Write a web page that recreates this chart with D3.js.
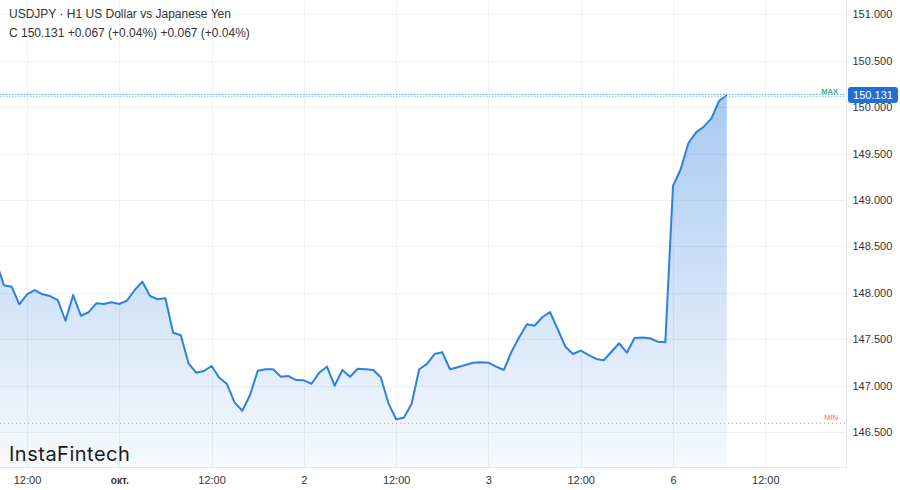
<!DOCTYPE html>
<html>
<head>
<meta charset="utf-8">
<script src="https://cdn.jsdelivr.net/npm/d3@7"></script>
<style>
  html, body { margin: 0; padding: 0; background: #fff; }
  svg { display: block; }
</style>
</head>
<body>
<svg id="chart" width="900" height="490"></svg>
<script>
// ---------------- DATA ----------------
const titleLine1 = "USDJPY · H1 US Dollar vs Japanese Yen";
const titleLine2 = "C 150.131 +0.067 (+0.04%) +0.067 (+0.04%)";
const firstBar = -16; // bar index of first close (0 = 1 Oct 00:00), hourly bars
const closes = [
  148.33, 148.08, 148.065, 147.875, 147.983, 148.029, 147.983, 147.964,
  147.921, 147.698, 147.975, 147.752, 147.789, 147.886, 147.878, 147.897,
  147.878, 147.914, 148.029, 148.119, 147.964, 147.929, 147.94, 147.569,
  147.541, 147.239, 147.138, 147.156, 147.21, 147.084, 147.016, 146.815,
  146.728, 146.898, 147.159, 147.175, 147.175, 147.095, 147.102, 147.059,
  147.056, 147.019, 147.138, 147.203, 146.998, 147.167, 147.095, 147.181,
  147.175, 147.167, 147.088, 146.808, 146.636, 146.653, 146.801, 147.175,
  147.232, 147.339, 147.358, 147.175, 147.196, 147.221, 147.246, 147.25,
  147.246, 147.203, 147.167, 147.364, 147.519, 147.659, 147.644, 147.735,
  147.792, 147.609, 147.418, 147.339, 147.375, 147.329, 147.286, 147.272,
  147.364, 147.455, 147.353, 147.512, 147.516, 147.509, 147.472, 147.466,
  149.15, 149.33, 149.61, 149.728, 149.789, 149.879, 150.069, 150.131
];
const lastPrice = 150.131;
const maxLevel = 150.131;
const minLevel = 146.592;
const xTickBars = [-12, 0, 12, 24, 36, 48, 60, 72, 84];
const xTickLabels = ["12:00", "окт.", "12:00", "2", "12:00", "3", "12:00", "6", "12:00"];
const xTickBold = [false, true, false, false, false, false, false, false, false];
const yTicks = [146.5, 147.0, 147.5, 148.0, 148.5, 149.0, 149.5, 150.0, 150.5, 151.0];

// ---------------- LAYOUT ----------------
const W = 900, H = 490;
const plotRight = 846.5, plotBottom = 467.5;
const svg = d3.select("#chart");
const FONT = "'Liberation Sans', Arial, sans-serif";

const x = d3.scaleLinear().domain([0, 72]).range([119.3, 673]);
const y = d3.scaleLinear().domain([146.5, 151]).range([431.9, 14.3]);

const data = closes.map((v, i) => ({ bar: firstBar + i, v }));

svg.append("rect").attr("width", W).attr("height", H).attr("fill", "#fff");

const defs = svg.append("defs");
defs.append("clipPath").attr("id", "plotClip")
  .append("rect").attr("x", 0).attr("y", 0).attr("width", plotRight).attr("height", plotBottom);

const grad = defs.append("linearGradient").attr("id", "areaGrad")
  .attr("gradientUnits", "userSpaceOnUse")
  .attr("x1", 0).attr("x2", 0).attr("y1", y(lastPrice)).attr("y2", plotBottom);
grad.append("stop").attr("offset", "0%").attr("stop-color", "#2f80e0").attr("stop-opacity", 0.42);
grad.append("stop").attr("offset", "100%").attr("stop-color", "#2f80e0").attr("stop-opacity", 0.04);

// grid
const grid = svg.append("g").attr("clip-path", "url(#plotClip)");
grid.selectAll("line.h").data(yTicks).join("line")
  .attr("x1", 0).attr("x2", plotRight)
  .attr("y1", d => Math.round(y(d)) + 0.5).attr("y2", d => Math.round(y(d)) + 0.5)
  .attr("stroke", "#eef0f4").attr("stroke-width", 1);
grid.selectAll("line.v").data(xTickBars).join("line")
  .attr("x1", d => Math.round(x(d)) + 0.5).attr("x2", d => Math.round(x(d)) + 0.5)
  .attr("y1", 0).attr("y2", plotBottom)
  .attr("stroke", "#eef0f4").attr("stroke-width", 1);

// area + line
const plot = svg.append("g").attr("clip-path", "url(#plotClip)");
plot.append("path").datum(data)
  .attr("d", d3.area().x(d => x(d.bar)).y0(plotBottom).y1(d => y(d.v)))
  .attr("fill", "url(#areaGrad)");
plot.append("path").datum(data)
  .attr("d", d3.line().x(d => x(d.bar)).y(d => y(d.v)))
  .attr("fill", "none").attr("stroke", "#2f80dd").attr("stroke-width", 2)
  .attr("stroke-linejoin", "round");

// max / min lines
plot.append("line").attr("x1", 0).attr("x2", plotRight)
  .attr("y1", y(maxLevel) - 0.5).attr("y2", y(maxLevel) - 0.5)
  .attr("stroke", "#5aa2ea").attr("stroke-width", 1).attr("stroke-dasharray", "1.5,1.5");
plot.append("line").attr("x1", 0).attr("x2", plotRight)
  .attr("y1", y(maxLevel) + 1.5).attr("y2", y(maxLevel) + 1.5)
  .attr("stroke", "#9cc6f2").attr("stroke-width", 1).attr("stroke-dasharray", "1.5,1.5");
plot.append("line").attr("x1", 0).attr("x2", plotRight)
  .attr("y1", y(minLevel)).attr("y2", y(minLevel))
  .attr("stroke", "#f08a8a").attr("stroke-width", 1).attr("stroke-dasharray", "1,3");
svg.append("text").attr("x", 838).attr("y", y(maxLevel) - 1)
  .attr("text-anchor", "end").attr("font-family", FONT).attr("font-size", 7.5)
  .attr("font-weight", "bold").attr("fill", "#3cb371").text("MAX");
svg.append("text").attr("x", 838).attr("y", y(minLevel) - 3)
  .attr("text-anchor", "end").attr("font-family", FONT).attr("font-size", 7.5)
  .attr("fill", "#f07070").text("MIN");

// plot frame (right + bottom)
svg.append("line").attr("x1", plotRight).attr("x2", plotRight).attr("y1", 0).attr("y2", plotBottom)
  .attr("stroke", "#e2e7ef");
svg.append("line").attr("x1", 0).attr("x2", plotRight).attr("y1", plotBottom).attr("y2", plotBottom)
  .attr("stroke", "#e2e7ef");

// y axis labels
const yAxis = svg.append("g").attr("transform", `translate(${plotRight},0)`)
  .call(d3.axisRight(y).tickValues(yTicks).tickFormat(d3.format(".3f")).tickSize(0).tickPadding(6));
yAxis.select(".domain").remove();
yAxis.selectAll("text").attr("font-family", FONT).attr("font-size", 11).attr("fill", "#333");

// x axis labels
const xAxis = svg.append("g").attr("transform", `translate(0,${plotBottom})`)
  .call(d3.axisBottom(x).tickValues(xTickBars).tickFormat((d, i) => xTickLabels[i]).tickSize(0).tickPadding(9));
xAxis.select(".domain").remove();
xAxis.selectAll("text").attr("font-family", FONT).attr("fill", "#333")
  .attr("font-weight", (d, i) => xTickBold[i] ? "bold" : "normal")
  .attr("font-size", (d, i) => xTickBold[i] ? 10 : 11);

// last price badge
const by = y(lastPrice);
svg.append("rect").attr("x", 848).attr("y", by - 8).attr("width", 50).attr("height", 16)
  .attr("rx", 3).attr("fill", "#1f6fd6");
svg.append("text").attr("x", 873).attr("y", by + 4).attr("text-anchor", "middle")
  .attr("font-family", FONT).attr("font-size", 11).attr("fill", "#fff").text(d3.format(".3f")(lastPrice));

// titles
svg.append("text").attr("x", 9).attr("y", 18).attr("font-family", FONT).attr("font-size", 12)
  .attr("fill", "#333").text(titleLine1);
svg.append("text").attr("x", 9).attr("y", 37).attr("font-family", FONT).attr("font-size", 12)
  .attr("fill", "#333").text(titleLine2);

// logo
svg.append("text").attr("x", 9).attr("y", 461).attr("font-family", "Inter, 'Noto Sans', sans-serif")
  .attr("font-size", 20).attr("font-weight", 400).attr("letter-spacing", 0.5)
  .attr("fill", "#1a1a1a").text("InstaFintech");
</script>
</body>
</html>
